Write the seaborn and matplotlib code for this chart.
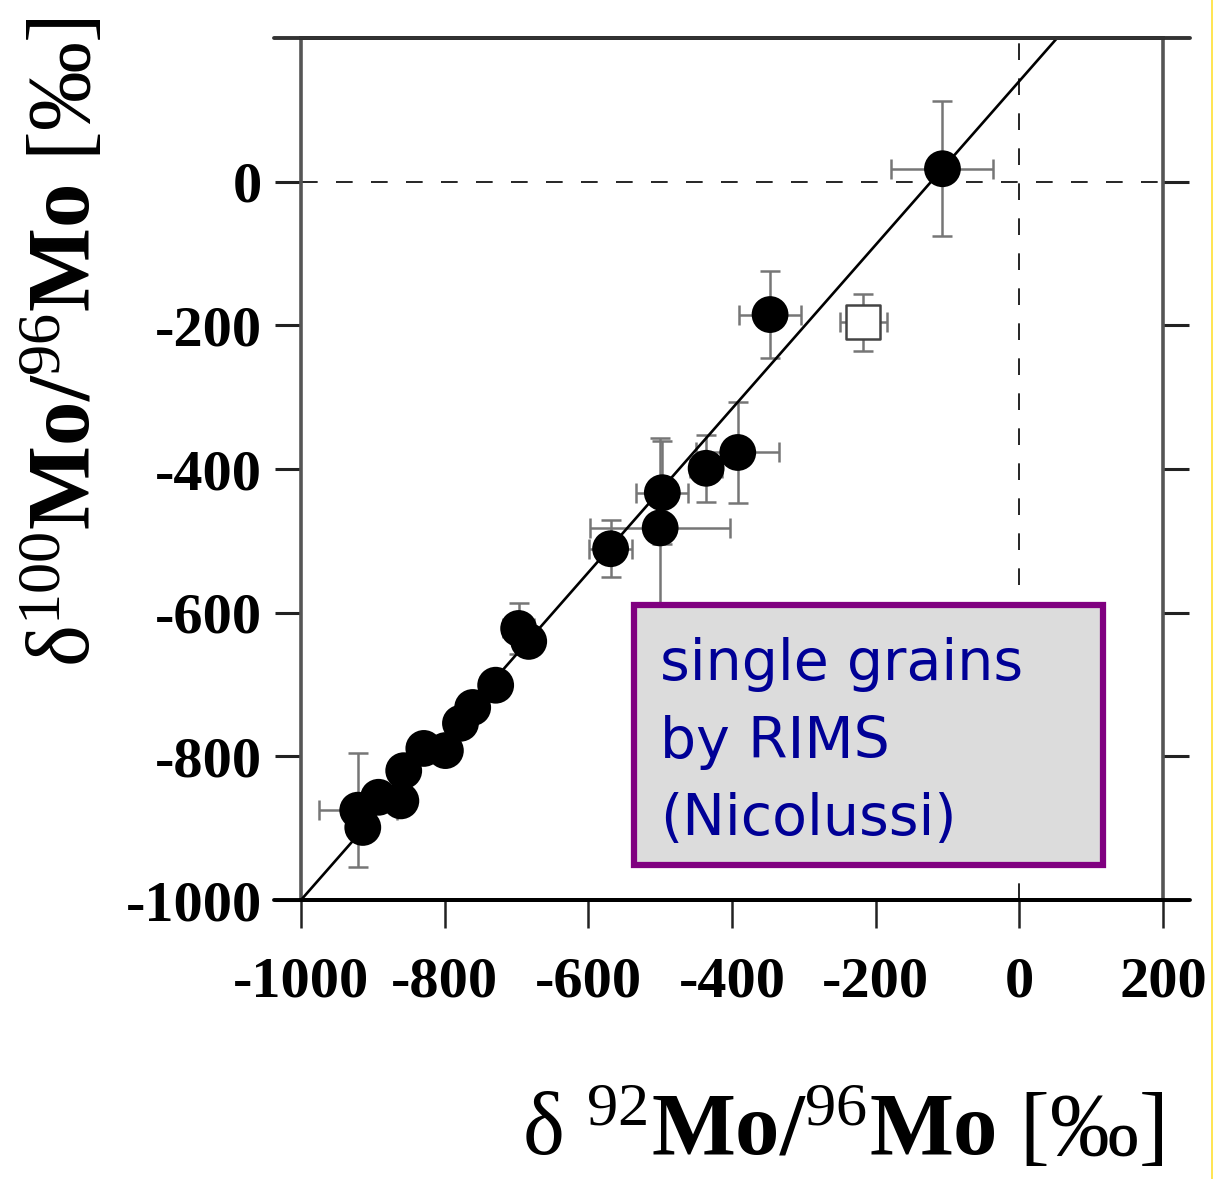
import numpy as np
import matplotlib
matplotlib.use("Agg")
import matplotlib.pyplot as plt
import seaborn as sns
from matplotlib.patches import Rectangle
from matplotlib.lines import Line2D

# ---------------- data ----------------
x_closed = [-107, -347, -392, -436, -497, -500, -569, -697, -683, -729, -761,
            -778, -799, -829, -857, -861, -892, -921, -914]
y_closed = [18, -185, -377, -399, -433, -482, -511, -622, -640, -701, -732,
            -754, -792, -789, -820, -862, -857, -875, -899]
xerr_closed = [71, 43, 58, 22, 36, 97, 30, 22, 0, 0, 0, 0, 0, 0, 0, 0, 0, 54, 0]
yerr_closed = [94, 60, 70, 47, 72, 125, 40, 36, 0, 0, 0, 0, 0, 0, 0, 0, 0, 79, 0]

x_open = [-217]
y_open = [-196]
xerr_open = [33]
yerr_open = [40]

fit_slope = 1.14
fit_intercept = 140.0

x_ticks = [-1000, -800, -600, -400, -200, 0, 200]
y_ticks = [-1000, -800, -600, -400, -200, 0]
x_limits = (-1000, 200)
y_limits = (-1000, 200)

box_lines = ["single grains", "by RIMS", "(Nicolussi)"]

# ---------------- style ----------------
sns.set_theme(style="white")
plt.rcParams['font.family'] = ['Liberation Serif', 'DejaVu Sans']
plt.rcParams['mathtext.fontset'] = 'custom'
plt.rcParams['mathtext.rm'] = 'Liberation Serif'
plt.rcParams['mathtext.it'] = 'Liberation Serif:italic'
plt.rcParams['mathtext.bf'] = 'Liberation Serif:bold'

W, H = 1222, 1179
fig = plt.figure(figsize=(W / 100, H / 100), dpi=100)
L, R, T, B = 301, 1163, 38, 900
ax = fig.add_axes([L / W, 1 - B / H, (R - L) / W, (B - T) / H])
ax.set_facecolor('white')

# error bars
ax.errorbar(x_closed, y_closed, xerr=xerr_closed, yerr=yerr_closed, fmt='none',
            ecolor='#767676', elinewidth=1.8, capsize=7, capthick=1.8, zorder=2)
ax.errorbar(x_open, y_open, xerr=xerr_open, yerr=yerr_open, fmt='none',
            ecolor='#767676', elinewidth=1.8, capsize=7, capthick=1.8, zorder=2)

# fit line
fit_x = np.array(x_limits, dtype=float)
fit_y = fit_slope * fit_x + fit_intercept
sns.lineplot(x=fit_x, y=fit_y, color='black', linewidth=1.9, ax=ax, zorder=3)

# points
sns.scatterplot(x=x_closed, y=y_closed, s=26.5 ** 2, color='black',
                edgecolor='none', linewidth=0, ax=ax, zorder=4)
sns.scatterplot(x=x_open, y=y_open, s=24.5 ** 2, marker='s', facecolor='white',
                edgecolor='#444444', linewidth=1.8, ax=ax, zorder=4)

# dashed reference lines
ax.axhline(0, color='black', lw=1.2, ls=(0, (10, 11)), zorder=1)
ax.axvline(0, color='black', lw=1.2, ls=(0, (10, 11)), zorder=1)

ax.set_xlim(*x_limits)
ax.set_ylim(*y_limits)
ax.set_xticks(x_ticks)
ax.set_yticks(y_ticks)
ax.set_xticklabels([str(v) for v in x_ticks])
ax.set_yticklabels([str(v) for v in y_ticks])
ax.set_xlabel('')
ax.set_ylabel('')

for lab in ax.get_xticklabels() + ax.get_yticklabels():
    lab.set_fontweight('bold')
    lab.set_fontsize(42)
    lab.set_color('black')

ax.tick_params(axis='y', which='both', direction='out', length=19, width=2.2,
               left=True, right=True, labelleft=True, labelright=False,
               color='#222222', pad=9)
ax.tick_params(axis='x', which='both', direction='out', length=20, width=1.8,
               bottom=True, top=False, color='#222222', pad=21)

for s in ['left', 'right']:
    ax.spines[s].set_color('#555555')
    ax.spines[s].set_linewidth(2.6)
for s in ['top', 'bottom']:
    ax.spines[s].set_color('black')
    ax.spines[s].set_linewidth(2.8)

# spine extensions (top and bottom lines stretch past the frame)
ext = 27 / (R - L)
for yy, col in [(1, '#333333'), (0, 'black')]:
    ax.add_line(Line2D([-ext, 1 + ext], [yy, yy], transform=ax.transAxes,
                       color=col, lw=2.8, clip_on=False, zorder=6))

# annotation box
box = Rectangle((-536, -951), 653, 362, facecolor='#DCDCDC', edgecolor='#800080',
                linewidth=4.5, zorder=7)
ax.add_patch(box)
for txt, yb in zip(box_lines, [-694, -802, -909]):
    ax.text(-500, yb, txt, fontsize=41, color='#000096', family='DejaVu Sans',
            va='baseline', ha='left', zorder=8)

# axis labels
fig.text(65 / W, 1 - 342 / H,
         r'δ$^{100}\mathbf{Mo/}^{96}\mathbf{Mo}$ [‰]',
         rotation=90, fontsize=64, ha='center', va='center', color='black')
fig.text(843 / W, 1 - 1130 / H,
         r'δ $^{92}\mathbf{Mo/}^{96}\mathbf{Mo}$ [‰]',
         fontsize=64, ha='center', va='center', color='black')

# thin yellow rule at right edge
fig.add_artist(Line2D([1212 / W, 1212 / W], [0, 1], transform=fig.transFigure,
                      color='#FFE033', lw=1.2))

fig.savefig('out.png', dpi=100)
